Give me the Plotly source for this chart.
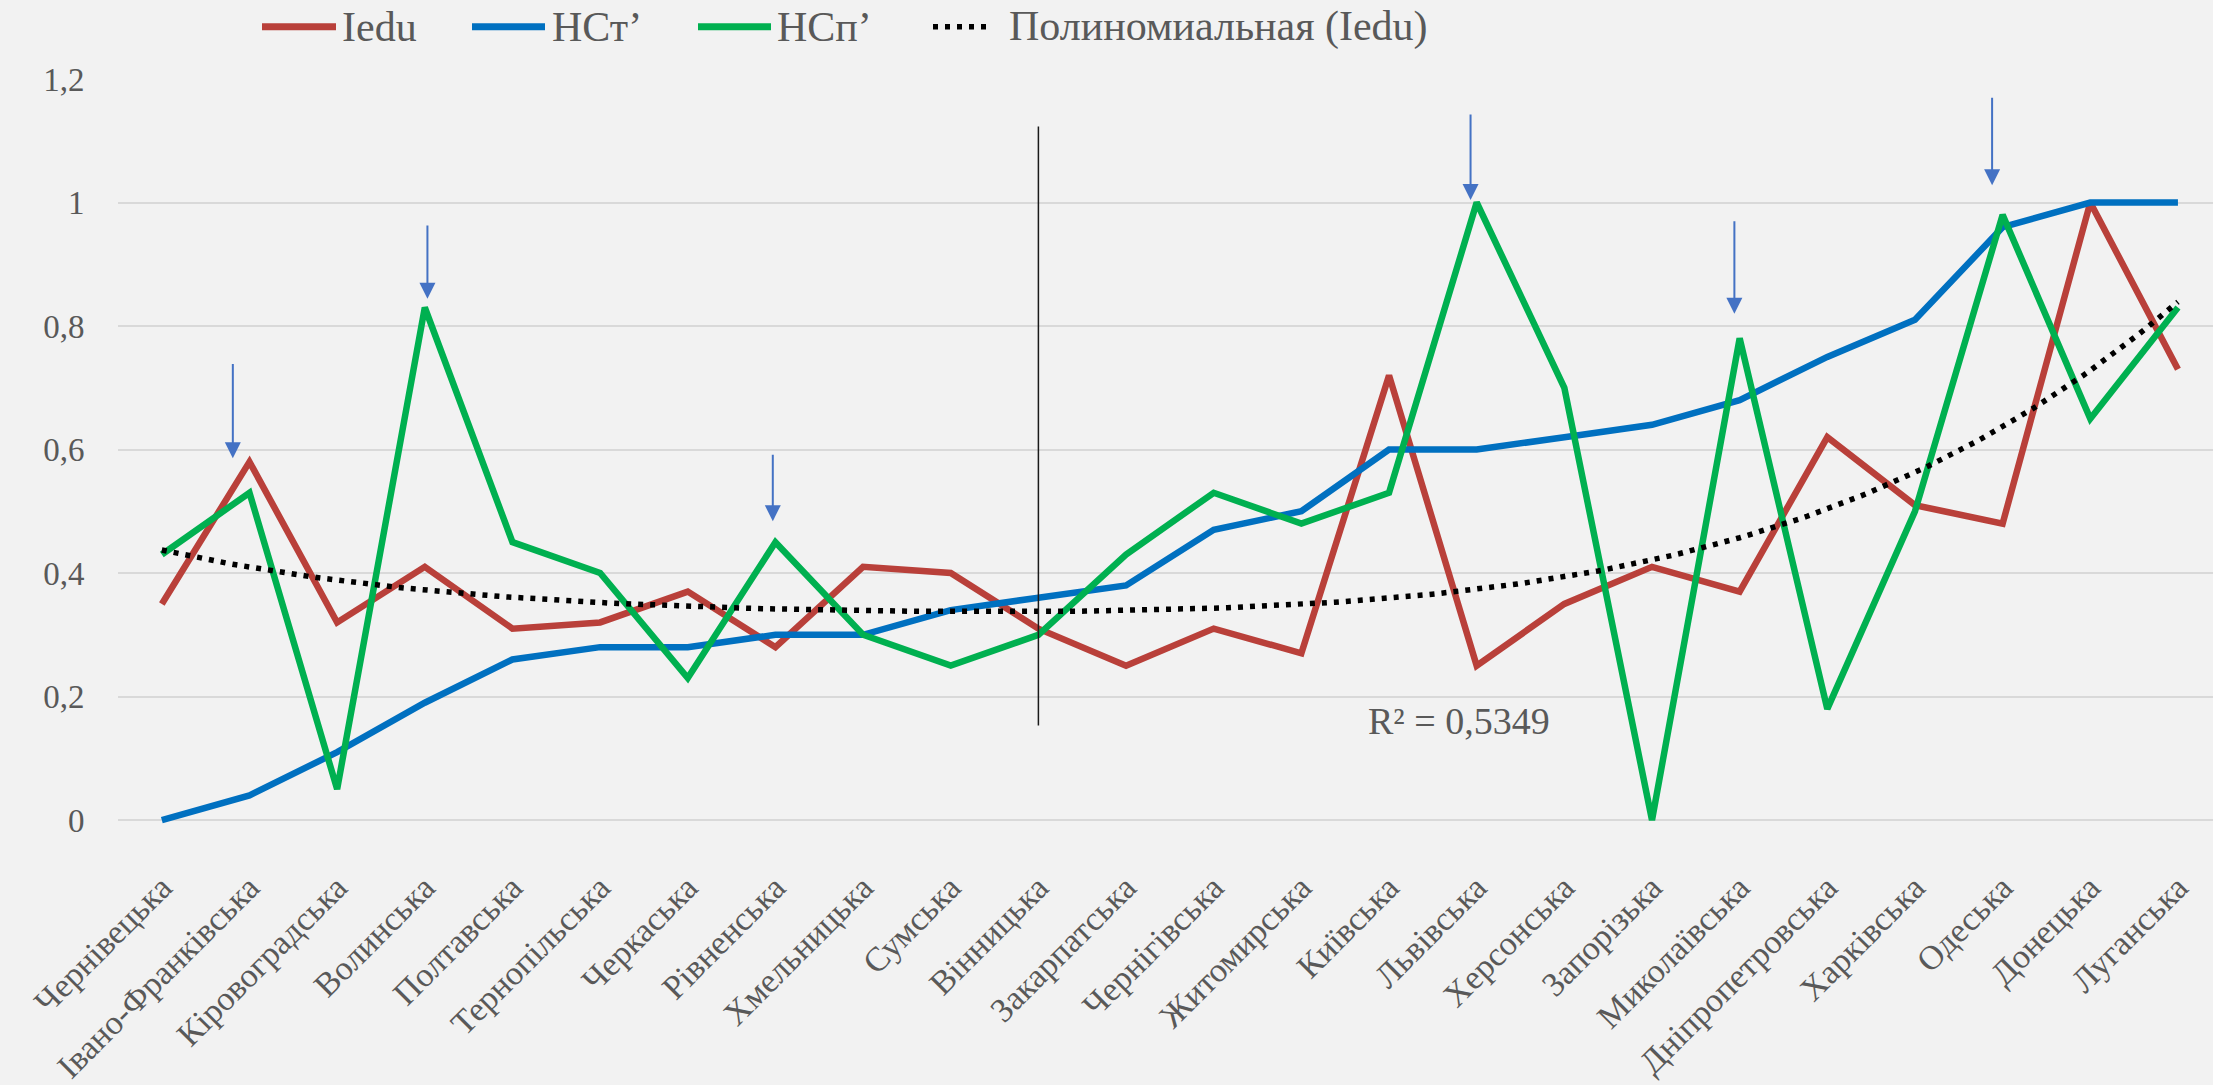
import numpy as np
import plotly.graph_objects as go

categories = ["Чернівецька", "Івано-Франківська", "Кіровоградська", "Волинська",
              "Полтавська", "Тернопільська", "Черкаська", "Рівненська",
              "Хмельницька", "Сумська", "Вінницька", "Закарпатська",
              "Чернігівська", "Житомирська", "Київська", "Львівська",
              "Херсонська", "Запорізька", "Миколаївська", "Дніпропетровська",
              "Харківська", "Одеська", "Донецька", "Луганська"]
iedu = [0.35, 0.58, 0.32, 0.41, 0.31, 0.32, 0.37, 0.28, 0.41, 0.40, 0.31, 0.25,
        0.31, 0.27, 0.72, 0.25, 0.35, 0.41, 0.37, 0.62, 0.51, 0.48, 1.00, 0.73]
hct = [0.00, 0.04, 0.11, 0.19, 0.26, 0.28, 0.28, 0.30, 0.30, 0.34, 0.36, 0.38,
       0.47, 0.50, 0.60, 0.60, 0.62, 0.64, 0.68, 0.75, 0.81, 0.96, 1.00, 1.00]
hcp = [0.43, 0.53, 0.05, 0.83, 0.45, 0.40, 0.23, 0.45, 0.30, 0.25, 0.30, 0.43,
       0.53, 0.48, 0.53, 1.00, 0.70, 0.00, 0.78, 0.18, 0.50, 0.98, 0.65, 0.83]
series_names = ["Iedu", "НСт’", "НСп’", "Полиномиальная (Iedu)"]
series_colors = ["#B9403A", "#0070C0", "#00B050", "#000000"]
y_tick_values = [0, 0.2, 0.4, 0.6, 0.8, 1.0, 1.2]
y_tick_labels = ["0", "0,2", "0,4", "0,6", "0,8", "1", "1,2"]
target_r2 = 0.5349
r2_label = "R² = 0,5349"
r2_position = (14.8, 0.16)
arrow_categories = ["Івано-Франківська", "Волинська", "Рівненська",
                    "Львівська", "Миколаївська", "Одеська"]
arrow_offsets = [-0.19, 0.03, -0.03, -0.07, -0.06, -0.12]
arrow_tips = [0.586, 0.844, 0.484, 1.004, 0.820, 1.028]
arrow_tails = [0.741, 0.965, 0.594, 1.145, 0.972, 1.172]
divider_category = "Вінницька"
divider_range = [0.153, 1.123]

FONT = "Liberation Serif, Times New Roman, serif"
TXT = "#595959"
BG = "#F2F2F2"
W, H = 2213, 1085
ML, MR, MT, MB = 118, 0, 79, 251
PW, PH = W - ML - MR, H - MT - MB

x = np.arange(len(categories))
xs = x + 1
y_arr = np.array(iedu)


def r2_of(order):
    c = np.polyfit(xs, y_arr, order)
    pred = np.polyval(c, xs)
    return 1 - np.sum((y_arr - pred) ** 2) / np.sum((y_arr - y_arr.mean()) ** 2)


trend_order = min(range(2, 7), key=lambda o: abs(r2_of(o) - target_r2))
coef = np.polyfit(xs, y_arr, trend_order)
xf = np.linspace(0, len(categories) - 1, 300)
yf = np.polyval(coef, xf + 1)

fig = go.Figure()
for vals, name, col in zip([iedu, hct, hcp], series_names[:3], series_colors[:3]):
    fig.add_trace(go.Scatter(x=x, y=vals, mode="lines", name=name, showlegend=False,
                             line=dict(color=col, width=6.5)))
fig.add_trace(go.Scatter(x=xf, y=yf, mode="lines", name=series_names[3], showlegend=False,
                         line=dict(color=series_colors[3], width=5.5, dash="5px,7px")))

annotations = []
for cat, off, tip, tail in zip(arrow_categories, arrow_offsets, arrow_tips, arrow_tails):
    xi = categories.index(cat) + off
    annotations.append(dict(x=xi, y=tip, ax=xi, ay=tail, xref="x", yref="y",
                            axref="x", ayref="y", showarrow=True, text="",
                            arrowhead=2, arrowsize=1.6, arrowwidth=2,
                            arrowcolor="#4472C4", standoff=0))
annotations.append(dict(x=r2_position[0], y=r2_position[1], xref="x", yref="y",
                        text=r2_label, showarrow=False,
                        font=dict(family=FONT, size=38, color=TXT)))

div_x = categories.index(divider_category)
fig.add_shape(type="line", xref="x", yref="y", x0=div_x, x1=div_x,
              y0=divider_range[0], y1=divider_range[1],
              line=dict(color="#1A1A1A", width=1.5))

# legend drawn at the top (pixel layout converted to paper coordinates)
legend_line_px = [(262, 336), (472, 545), (698, 771), (933, 992)]
legend_text_px = [340, 550, 775, 1007]
legend_y_px = 26


def px_x(p):
    return (p - ML) / PW


def px_y(p):
    return (H - MB - p) / PH


for i, name in enumerate(series_names):
    x0, x1 = legend_line_px[i]
    dash = "5px,7px" if i == 3 else "solid"
    lw = 5.5 if i == 3 else 7
    fig.add_shape(type="line", xref="paper", yref="paper",
                  x0=px_x(x0), x1=px_x(x1), y0=px_y(legend_y_px), y1=px_y(legend_y_px),
                  line=dict(color=series_colors[i], width=lw, dash=dash))
    annotations.append(dict(x=px_x(legend_text_px[i]), y=px_y(legend_y_px),
                            xref="paper", yref="paper", xanchor="left", yanchor="middle",
                            text=name, showarrow=False,
                            font=dict(family=FONT, size=42, color=TXT)))

fig.update_layout(
    width=W, height=H,
    paper_bgcolor=BG, plot_bgcolor=BG,
    margin=dict(l=ML, r=MR, t=MT, b=MB),
    font=dict(family=FONT, color=TXT, size=33),
    annotations=annotations,
    showlegend=False,
    xaxis=dict(range=[-0.5, 23.4], tickvals=list(x), ticktext=categories,
               tickangle=-45, showgrid=False, zeroline=False, showline=False,
               ticks="outside", ticklen=28, tickcolor="rgba(0,0,0,0)",
               tickfont=dict(family=FONT, size=34, color=TXT)),
    yaxis=dict(range=[-0.008, 1.2], tickvals=y_tick_values, ticktext=y_tick_labels,
               showgrid=True, gridcolor="#D9D9D9", gridwidth=2, zeroline=False,
               showline=False, ticks="outside", ticklen=26,
               tickcolor="rgba(0,0,0,0)",
               tickfont=dict(family=FONT, size=33, color=TXT)),
)

fig.write_html("out.html", config={"displayModeBar": False},
               post_script="document.body.style.margin='0';document.body.style.overflow='hidden';")
